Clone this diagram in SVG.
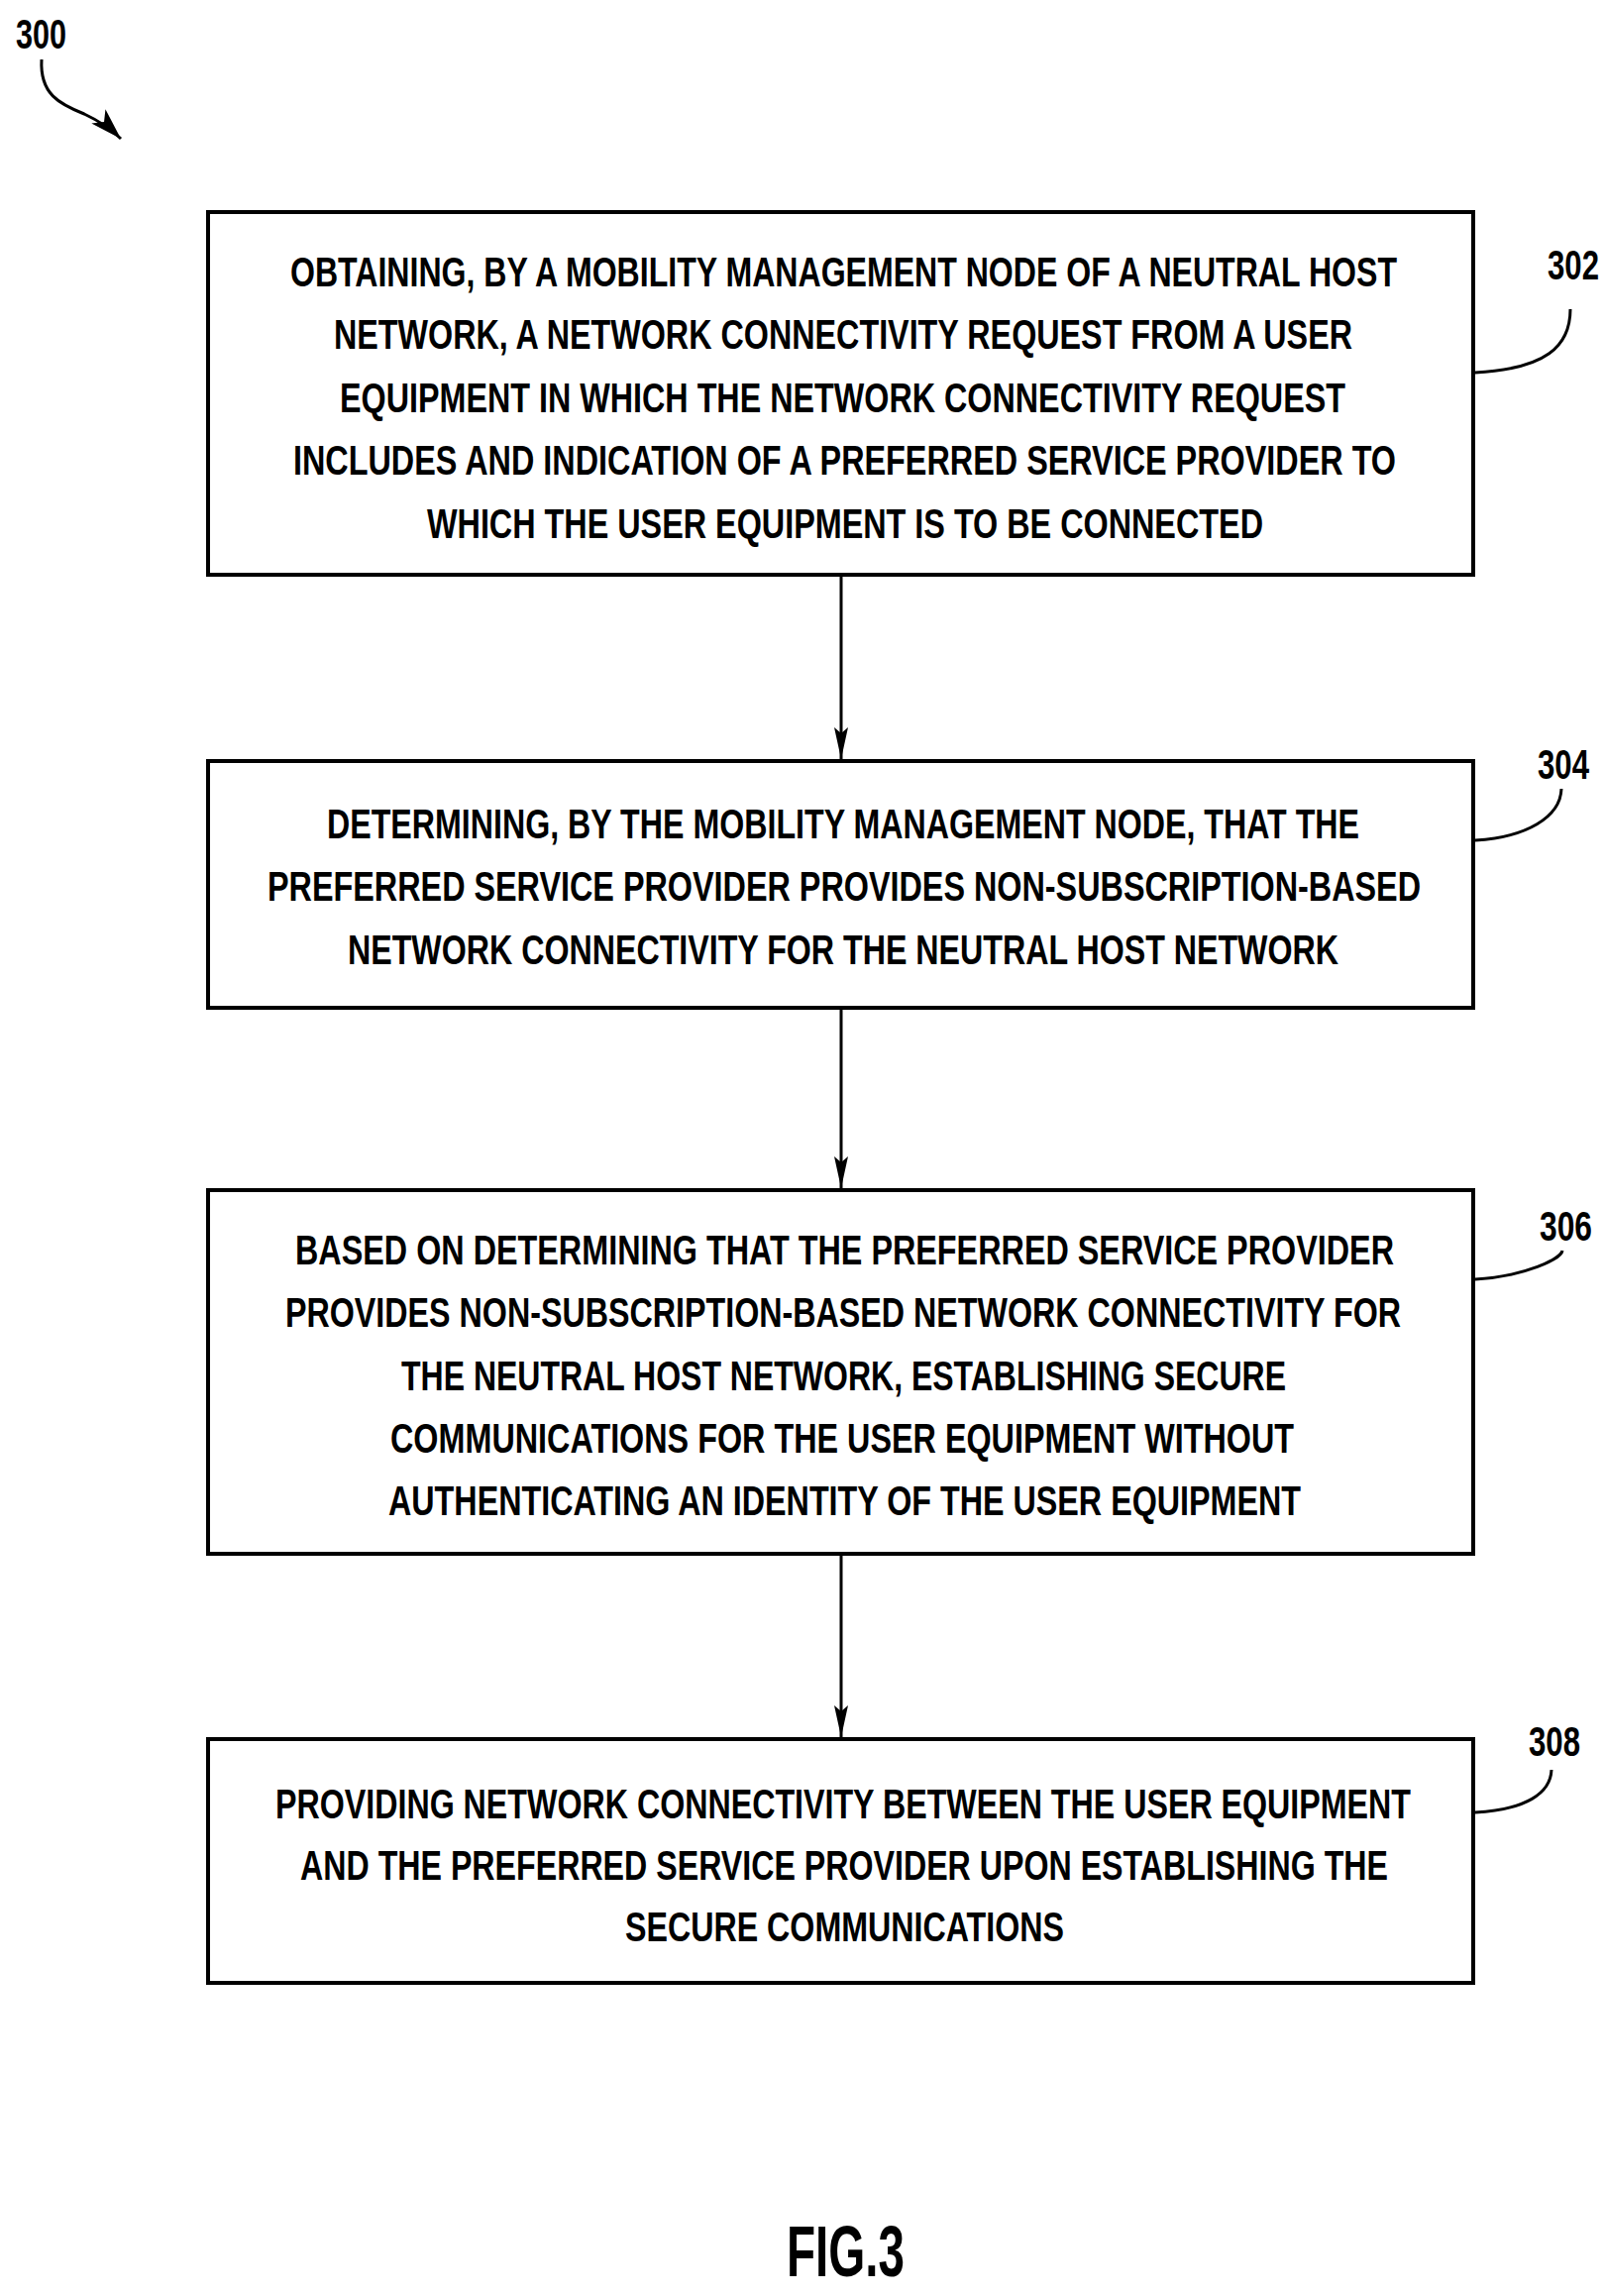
<svg xmlns="http://www.w3.org/2000/svg" width="1619" height="2317" viewBox="0 0 1619 2317">
<defs>
<marker id="ah" markerWidth="34" markerHeight="14" refX="32" refY="7" orient="auto" markerUnits="userSpaceOnUse">
<path d="M0,0 L32,7 L0,14 L6,7 Z" fill="#000"/>
</marker>
<marker id="ah2" markerWidth="34" markerHeight="20" refX="32" refY="10" orient="auto" markerUnits="userSpaceOnUse">
<path d="M0,0 L32,10 L0,20 L8,10 Z" fill="#000"/>
</marker>
</defs>
<style>
rect{fill:#fff;stroke:#000;stroke-width:4}
text{font-family:"Liberation Sans",Arial,sans-serif;font-size:42px;fill:#000;font-weight:bold}
.c path,.c line{stroke:#000;stroke-width:3;fill:none}
</style>
<rect x="0" y="0" width="1619" height="2317" style="fill:#fff;stroke:none"/>
<text x="16" y="49" textLength="51" lengthAdjust="spacingAndGlyphs">300</text>
<g id="n302">
<rect x="210" y="214" width="1277" height="366"/>
<text x="293" y="289" textLength="1117" lengthAdjust="spacingAndGlyphs">OBTAINING, BY A MOBILITY MANAGEMENT NODE OF A NEUTRAL HOST</text>
<text x="337" y="352" textLength="1028" lengthAdjust="spacingAndGlyphs">NETWORK, A NETWORK CONNECTIVITY REQUEST FROM A USER</text>
<text x="343" y="416" textLength="1015" lengthAdjust="spacingAndGlyphs">EQUIPMENT IN WHICH THE NETWORK CONNECTIVITY REQUEST</text>
<text x="296" y="479" textLength="1113" lengthAdjust="spacingAndGlyphs">INCLUDES AND INDICATION OF A PREFERRED SERVICE PROVIDER TO</text>
<text x="431" y="543" textLength="844" lengthAdjust="spacingAndGlyphs">WHICH THE USER EQUIPMENT IS TO BE CONNECTED</text>
<text x="1562" y="282" textLength="52" lengthAdjust="spacingAndGlyphs">302</text>
</g>
<g id="n304">
<rect x="210" y="768" width="1277" height="249"/>
<text x="330" y="846" textLength="1042" lengthAdjust="spacingAndGlyphs">DETERMINING, BY THE MOBILITY MANAGEMENT NODE, THAT THE</text>
<text x="270" y="909" textLength="1164" lengthAdjust="spacingAndGlyphs">PREFERRED SERVICE PROVIDER PROVIDES NON-SUBSCRIPTION-BASED</text>
<text x="351" y="973" textLength="1000" lengthAdjust="spacingAndGlyphs">NETWORK CONNECTIVITY FOR THE NEUTRAL HOST NETWORK</text>
<text x="1552" y="786" textLength="52" lengthAdjust="spacingAndGlyphs">304</text>
</g>
<g id="n306">
<rect x="210" y="1201" width="1277" height="367"/>
<text x="298" y="1276" textLength="1109" lengthAdjust="spacingAndGlyphs">BASED ON DETERMINING THAT THE PREFERRED SERVICE PROVIDER</text>
<text x="288" y="1339" textLength="1126" lengthAdjust="spacingAndGlyphs">PROVIDES NON-SUBSCRIPTION-BASED NETWORK CONNECTIVITY FOR</text>
<text x="405" y="1403" textLength="893" lengthAdjust="spacingAndGlyphs">THE NEUTRAL HOST NETWORK, ESTABLISHING SECURE</text>
<text x="394" y="1466" textLength="912" lengthAdjust="spacingAndGlyphs">COMMUNICATIONS FOR THE USER EQUIPMENT WITHOUT</text>
<text x="392" y="1529" textLength="921" lengthAdjust="spacingAndGlyphs">AUTHENTICATING AN IDENTITY OF THE USER EQUIPMENT</text>
<text x="1554" y="1252" textLength="53" lengthAdjust="spacingAndGlyphs">306</text>
</g>
<g id="n308">
<rect x="210" y="1755" width="1277" height="246"/>
<text x="278" y="1835" textLength="1146" lengthAdjust="spacingAndGlyphs">PROVIDING NETWORK CONNECTIVITY BETWEEN THE USER EQUIPMENT</text>
<text x="303" y="1897" textLength="1098" lengthAdjust="spacingAndGlyphs">AND THE PREFERRED SERVICE PROVIDER UPON ESTABLISHING THE</text>
<text x="631" y="1959" textLength="443" lengthAdjust="spacingAndGlyphs">SECURE COMMUNICATIONS</text>
<text x="1543" y="1772" textLength="52" lengthAdjust="spacingAndGlyphs">308</text>
</g>
<text x="794" y="2297" style="font-size:72px" textLength="119" lengthAdjust="spacingAndGlyphs">FIG.3</text>
<g id="connectors" class="c">
<line x1="849" y1="582" x2="849" y2="766" marker-end="url(#ah)"/>
<line x1="849" y1="1019" x2="849" y2="1199" marker-end="url(#ah)"/>
<line x1="849" y1="1570" x2="849" y2="1753" marker-end="url(#ah)"/>
<path d="M42,60 C40,95 60,105 85,115 C100,122 112,130 122,140" marker-end="url(#ah2)"/>
<path d="M1489,376 C1560,372 1585,350 1585,312"/>
<path d="M1489,848 C1540,845 1575,825 1576,796"/>
<path d="M1489,1291 C1540,1288 1576,1270 1577,1262"/>
<path d="M1489,1829 C1540,1826 1565,1810 1566,1786"/>
</g>
</svg>
